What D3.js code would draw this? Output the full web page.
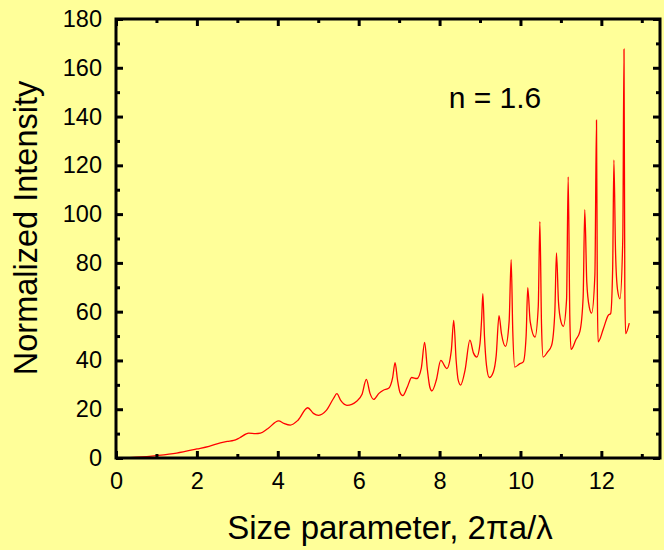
<!DOCTYPE html>
<html>
<head>
<meta charset="utf-8">
<script src="https://cdn.jsdelivr.net/npm/d3@7"></script>
<style>
  html, body { margin: 0; padding: 0; background: #ffff99; }
  svg { display: block; font-family: "Liberation Sans", Arial, sans-serif; }
</style>
</head>
<body>
<div id="chart"></div>
<script>
/* globals d3 */

// size parameter (x) and normalized intensity (y)
var sizeParam = [
  0.2, 0.5, 1.0, 1.5, 2.0, 2.3, 2.58, 2.75, 2.91, 3.05, 3.28, 3.45, 3.57, 3.75,
  4.02, 4.15, 4.31, 4.5, 4.74, 4.88, 5.01, 5.2, 5.38, 5.46, 5.56, 5.71, 5.95, 6.08,
  6.19, 6.28, 6.37, 6.5, 6.61, 6.74, 6.84, 6.90, 6.96, 7.02, 7.09, 7.2, 7.31, 7.44,
  7.55, 7.63, 7.70, 7.76, 7.81, 7.92, 8.03, 8.18, 8.29, 8.35, 8.41, 8.46, 8.52, 8.63,
  8.75, 8.84, 8.92, 9.0, 9.04, 9.07, 9.11, 9.16, 9.23, 9.33, 9.4, 9.47, 9.53, 9.63,
  9.72, 9.77, 9.81, 9.86, 9.97, 10.07, 10.14, 10.18, 10.24, 10.36, 10.44, 10.48, 10.52,
  10.56, 10.67, 10.77, 10.85, 10.89, 10.94, 11.0, 11.06, 11.14, 11.18, 11.22, 11.25,
  11.37, 11.47, 11.55, 11.59, 11.64, 11.70, 11.76, 11.84, 11.88, 11.90, 11.92, 12.05,
  12.17, 12.23, 12.28, 12.31, 12.35, 12.40, 12.46, 12.53, 12.56, 12.58, 12.60, 12.69
];
var intensity = [
  0, 0.3, 1.0, 2.0, 3.7, 4.8, 6.2, 6.8, 7.2, 8.2, 10.2, 10.0, 10.2, 12.0,
  15.2, 14.2, 13.5, 15.5, 20.6, 18.3, 17.5, 19.5, 24.5, 26.4, 23.5, 21.6, 23.3, 26,
  32.2, 26.5, 24.0, 26.5, 27.8, 28.6, 33, 39.1, 32, 27, 25.6, 29, 33, 32.6,
  37, 47.4, 36, 29, 27.5, 32, 40, 36.7, 44, 56.4, 40, 32, 29.9, 36,
  48.3, 43, 41.4, 47, 57, 67.4, 50, 38, 33, 35.3, 42, 58.4, 51, 45.8,
  56, 81.3, 52, 37.3, 38.5, 39.4, 50, 69.8, 56, 49.6, 62, 96.9, 55,
  41.4, 43.5, 46.2, 60, 84.1, 64, 56, 54, 65, 115.3, 58, 44.5,
  48.5, 51.9, 66, 101.8, 72, 62, 59.4, 75, 138.5, 70, 47.6, 53,
  58.5, 59.2, 78, 122.2, 85, 69, 65.3, 90, 167.6, 70, 51, 55.3
];

var xTicks = [0, 2, 4, 6, 8, 10, 12];
var xMinorTicks = [1, 3, 5, 7, 9, 11, 13];
var yTicks = [0, 20, 40, 60, 80, 100, 120, 140, 160, 180];
var yMinorTicks = [10, 30, 50, 70, 90, 110, 130, 150, 170];

var Chart = {
  settings: {
    width: 664,
    height: 550,
    margin: { top: 19, right: 4, bottom: 92, left: 116 },
    majorTick: 7,
    minorTick: 4
  },

  draw: function(container) {
    var s = Chart.settings;
    var w = s.width - s.margin.left - s.margin.right;
    var h = s.height - s.margin.top - s.margin.bottom;

    var svg = d3.select(container).append("svg")
      .attr("width", s.width)
      .attr("height", s.height);

    svg.append("rect")
      .attr("width", s.width).attr("height", s.height)
      .attr("fill", "#ffff99");

    var g = svg.append("g")
      .attr("transform", "translate(" + s.margin.left + "," + s.margin.top + ")");

    var x = d3.scaleLinear().domain([0, 13.45]).range([0, w]);
    var y = d3.scaleLinear().domain([0, 180]).range([h, 0]);

    var data = sizeParam.map(function(d, i) { return { x: d, y: intensity[i] }; });

    var line = d3.line()
      .x(function(d) { return x(d.x); })
      .y(function(d) { return y(d.y); })
      .curve(d3.curveMonotoneX);

    g.append("path")
      .datum(data)
      .attr("fill", "none")
      .attr("stroke", "#ff0000")
      .attr("stroke-width", 1.3)
      .attr("d", line);

    // inward ticks on all four sides
    function ticks(axis, values, size, label) {
      return axis.tickValues(values)
        .tickSizeInner(-size)
        .tickSizeOuter(0)
        .tickPadding(label ? 14 : 0)
        .tickFormat(label ? d3.format("d") : "");
    }

    var sides = [
      { axis: d3.axisBottom(x), tr: "translate(0," + h + ")", major: xTicks, minor: xMinorTicks, label: true },
      { axis: d3.axisTop(x), tr: "translate(0,0)", major: xTicks, minor: xMinorTicks, label: false },
      { axis: d3.axisLeft(y), tr: "translate(0,0)", major: yTicks, minor: yMinorTicks, label: true },
      { axis: d3.axisRight(y), tr: "translate(" + w + ",0)", major: yTicks, minor: yMinorTicks, label: false }
    ];

    sides.forEach(function(side) {
      var ga = g.append("g").attr("transform", side.tr)
        .call(ticks(side.axis, side.major, s.majorTick, side.label));
      ga.append("g")
        .call(ticks(side.axis, side.minor, s.minorTick, false));
      ga.selectAll(".domain").remove();
      ga.selectAll("line").attr("stroke", "#000").attr("stroke-width", 3);
      ga.selectAll("text")
        .attr("fill", "#000")
        .style("font-size", "23.5px");
    });

    g.append("rect")
      .attr("width", w).attr("height", h)
      .attr("fill", "none")
      .attr("stroke", "#000")
      .attr("stroke-width", 3);

    svg.append("text")
      .attr("x", 390).attr("y", 539)
      .attr("text-anchor", "middle")
      .style("font-size", "33px")
      .text("Size parameter, 2\u03c0a/\u03bb");

    svg.append("text")
      .attr("transform", "translate(37,228) rotate(-90)")
      .attr("text-anchor", "middle")
      .style("font-size", "32.5px")
      .text("Normalized Intensity");

    svg.append("text")
      .attr("x", 495).attr("y", 108)
      .attr("text-anchor", "middle")
      .style("font-size", "30px")
      .text("n = 1.6");
  }
};

Chart.draw("#chart");
</script>
</body>
</html>
